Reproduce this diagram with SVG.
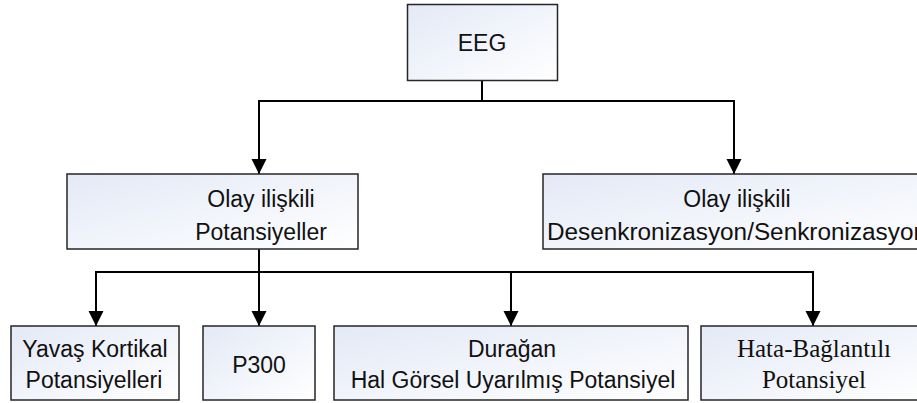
<svg xmlns="http://www.w3.org/2000/svg" width="917" height="403" viewBox="0 0 917 403">
  <defs>
    <linearGradient id="boxFill" x1="0" y1="0" x2="1" y2="1">
      <stop offset="0" stop-color="#e3e9f6"/>
      <stop offset="1" stop-color="#ffffff"/>
    </linearGradient>
    <marker id="arrow" markerUnits="userSpaceOnUse" markerWidth="16" markerHeight="16" viewBox="0 0 16 16" refX="15" refY="8" orient="auto">
      <path d="M0 0.5 L15 8 L0 15.5 Z" fill="#000"/>
    </marker>
  </defs>
  <style>
    .box { fill: url(#boxFill); stroke: #262626; stroke-width: 1.5; }
    .lbl { font-family: "Liberation Sans", Arial, sans-serif; font-size: 23px; fill: #111; text-anchor: middle; }
    .serif { font-family: "Liberation Serif", "Times New Roman", serif; font-size: 25px; fill: #111; text-anchor: middle; }
    .conn { fill: none; stroke: #000; stroke-width: 2; }
  </style>

  <rect width="917" height="403" fill="#ffffff"/>

  <!-- connectors -->
  <g id="connectors">
    <path class="conn" d="M482 80 V101"/>
    <path class="conn" d="M482 101 H259 V174" marker-end="url(#arrow)"/>
    <path class="conn" d="M482 101 H734 V174" marker-end="url(#arrow)"/>
    <path class="conn" d="M259 249 V272"/>
    <path class="conn" d="M259 272 H96 V326" marker-end="url(#arrow)"/>
    <path class="conn" d="M259 272 V326" marker-end="url(#arrow)"/>
    <path class="conn" d="M259 272 H511 V326" marker-end="url(#arrow)"/>
    <path class="conn" d="M511 272 H813 V326" marker-end="url(#arrow)"/>
  </g>

  <g id="eeg">
    <rect class="box" x="407.5" y="4.5" width="150" height="76"/>
    <text class="lbl" x="482" y="51">EEG</text>
  </g>

  <g id="olay-potansiyeller">
    <rect class="box" x="67" y="174" width="291" height="75"/>
    <text class="lbl" x="261" y="207">Olay ilişkili</text>
    <text class="lbl" x="261" y="240">Potansiyeller</text>
  </g>

  <g id="olay-desenkronizasyon">
    <rect class="box" x="543" y="174" width="392" height="75"/>
    <text class="lbl" x="737" y="207">Olay ilişkili</text>
    <text class="lbl" x="737" y="240" textLength="380" lengthAdjust="spacingAndGlyphs">Desenkronizasyon/Senkronizasyon</text>
  </g>

  <g id="yavas-kortikal">
    <rect class="box" x="11" y="326" width="168" height="74"/>
    <text class="lbl" x="95" y="357">Yavaş Kortikal</text>
    <text class="lbl" x="94" y="388">Potansiyelleri</text>
  </g>

  <g id="p300">
    <rect class="box" x="203" y="326" width="112" height="74"/>
    <text class="lbl" x="259" y="373">P300</text>
  </g>

  <g id="duragan-hal">
    <rect class="box" x="334" y="326" width="354" height="74"/>
    <text class="lbl" x="512" y="357">Durağan</text>
    <text class="lbl" x="513" y="388">Hal Görsel Uyarılmış Potansiyel</text>
  </g>

  <g id="hata-baglantili">
    <rect class="box" x="701" y="326" width="226" height="74"/>
    <text class="serif" x="814" y="357">Hata-Bağlantılı</text>
    <text class="serif" x="814" y="388">Potansiyel</text>
  </g>
</svg>
